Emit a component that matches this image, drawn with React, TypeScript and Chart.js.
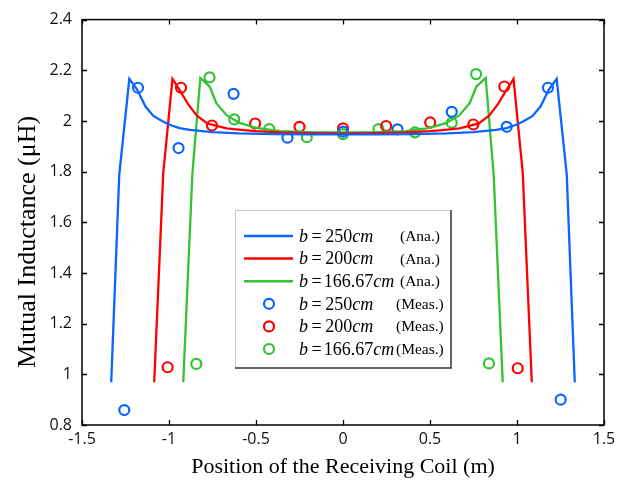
import React, { useEffect, useRef } from 'react';
import { Chart, registerables } from 'chart.js';

Chart.register(...registerables);

// ---- tick labels ----
const xTicks = [-1.5, -1, -0.5, 0, 0.5, 1, 1.5];
const yTicks = [0.8, 1, 1.2, 1.4, 1.6, 1.8, 2, 2.2, 2.4];

// ---- series names ----
const bValues = ['250', '200', '166.67'];
const seriesColors = ['#0a64ff', '#ff0000', '#33c433'];

// ---- analytical curves ----
const ana250X = [-1.332, -1.286, -1.228, -1.184, -1.135, -1.09, -1.04, -1.0, -0.94, -0.88, -0.75, -0.6, -0.4, -0.2, 0, 0.2, 0.4, 0.6, 0.75, 0.88, 0.94, 1.0, 1.04, 1.09, 1.135, 1.184, 1.228, 1.286, 1.332];
const ana250Y = [0.969, 1.787, 2.166, 2.125, 2.057, 2.02, 2.0, 1.986, 1.972, 1.965, 1.956, 1.951, 1.948, 1.947, 1.947, 1.947, 1.948, 1.951, 1.956, 1.965, 1.972, 1.986, 2.0, 2.02, 2.057, 2.125, 2.166, 1.787, 0.969];

const ana200X = [-1.085, -1.033, -0.98, -0.937, -0.89, -0.84, -0.78, -0.67, -0.6, -0.5, -0.36, -0.18, 0, 0.18, 0.36, 0.5, 0.6, 0.67, 0.78, 0.84, 0.89, 0.937, 0.98, 1.033, 1.085];
const ana200Y = [0.969, 1.795, 2.166, 2.12, 2.066, 2.021, 1.99, 1.971, 1.966, 1.96, 1.955, 1.952, 1.951, 1.952, 1.955, 1.96, 1.966, 1.971, 1.99, 2.021, 2.066, 2.12, 2.166, 1.795, 0.969];

const ana167X = [-0.918, -0.866, -0.82, -0.766, -0.728, -0.668, -0.594, -0.5, -0.36, -0.18, 0, 0.18, 0.36, 0.5, 0.594, 0.668, 0.728, 0.766, 0.82, 0.866, 0.918];
const ana167Y = [0.969, 1.787, 2.17, 2.135, 2.07, 2.022, 1.992, 1.973, 1.96, 1.956, 1.955, 1.956, 1.96, 1.973, 1.992, 2.022, 2.07, 2.135, 2.17, 1.787, 0.969];

// ---- measured points ----
const meas250X = [-1.257, -1.178, -0.945, -0.629, -0.319, 0, 0.313, 0.625, 0.941, 1.178, 1.251];
const meas250Y = [0.859, 2.131, 1.893, 2.107, 1.934, 1.958, 1.967, 2.036, 1.977, 2.131, 0.9];

const meas200X = [-1.008, -0.931, -0.753, -0.505, -0.25, 0, 0.248, 0.501, 0.749, 0.927, 1.004];
const meas200Y = [1.028, 2.131, 1.982, 1.99, 1.977, 1.971, 1.98, 1.994, 1.986, 2.136, 1.024];

const meas167X = [-0.843, -0.767, -0.625, -0.424, -0.208, 0, 0.204, 0.414, 0.625, 0.765, 0.839];
const meas167Y = [1.041, 2.172, 2.006, 1.968, 1.936, 1.948, 1.968, 1.955, 1.993, 2.185, 1.043];

const pts = (xs: number[], ys: number[]) => xs.map((x, i) => ({ x, y: ys[i] }));

const anaSeries = [pts(ana250X, ana250Y), pts(ana200X, ana200Y), pts(ana167X, ana167Y)];
const measSeries = [pts(meas250X, meas250Y), pts(meas200X, meas200Y), pts(meas167X, meas167Y)];

const SERIF = '"Liberation Serif", "Times New Roman", serif';
const SANS = '"Open Sans", "Liberation Sans", sans-serif';

const framePlugin = {
  id: 'frameTicks',
  afterDatasetsDraw(chart: any) {
    const { ctx, chartArea, scales } = chart;
    const { left, right, top, bottom } = chartArea;
    const xs = scales.x;
    const ys = scales.y;
    ctx.save();
    ctx.strokeStyle = '#000';
    ctx.lineWidth = 1.5;
    ctx.strokeRect(left, top, right - left, bottom - top);
    ctx.lineWidth = 1.3;
    const tl = 5;
    ctx.beginPath();
    xTicks.forEach((v) => {
      const px = Math.round(xs.getPixelForValue(v)) + 0.5;
      ctx.moveTo(px, bottom);
      ctx.lineTo(px, bottom - tl);
      ctx.moveTo(px, top);
      ctx.lineTo(px, top + tl);
    });
    yTicks.forEach((v) => {
      const py = Math.round(ys.getPixelForValue(v)) + 0.5;
      ctx.moveTo(left, py);
      ctx.lineTo(left + tl, py);
      ctx.moveTo(right, py);
      ctx.lineTo(right - tl, py);
    });
    ctx.stroke();
    ctx.restore();
  },
  afterDraw(chart: any) {
    const { ctx, chartArea } = chart;
    const { left, right } = chartArea;
    ctx.save();
    // axis titles
    ctx.fillStyle = '#000';
    ctx.textAlign = 'center';
    ctx.textBaseline = 'middle';
    ctx.font = `22px ${SERIF}`;
    ctx.fillText('Position of the Receiving Coil (m)', (left + right) / 2, 467);
    ctx.save();
    ctx.translate(28, 242);
    ctx.rotate(-Math.PI / 2);
    ctx.font = `26px ${SERIF}`;
    ctx.fillText('Mutual Inductance (\u03bcH)', 0, 0);
    ctx.restore();

    // legend box
    const bx = 235, by = 210, bw = 216, bh = 158;
    ctx.fillStyle = '#fff';
    ctx.fillRect(bx, by, bw, bh);
    ctx.lineWidth = 1;
    ctx.strokeStyle = '#c8c8c8';
    ctx.beginPath();
    ctx.moveTo(bx + 0.5, by + bh);
    ctx.lineTo(bx + 0.5, by + 0.5);
    ctx.lineTo(bx + bw, by + 0.5);
    ctx.stroke();
    ctx.strokeStyle = '#333';
    ctx.lineWidth = 1.5;
    ctx.beginPath();
    ctx.moveTo(bx + bw, by);
    ctx.lineTo(bx + bw, by + bh);
    ctx.lineTo(bx, by + bh);
    ctx.stroke();

    const rowY0 = 236;
    const rowStep = 22.6;
    for (let r = 0; r < 6; r++) {
      const si = r % 3;
      const isLine = r < 3;
      const cy = rowY0 + r * rowStep;
      const col = seriesColors[si];
      ctx.strokeStyle = col;
      if (isLine) {
        ctx.lineWidth = 2.5;
        ctx.beginPath();
        ctx.moveTo(244, cy);
        ctx.lineTo(293, cy);
        ctx.stroke();
      } else {
        ctx.lineWidth = 2.2;
        ctx.beginPath();
        ctx.arc(269, cy, 5, 0, Math.PI * 2);
        ctx.stroke();
      }
      ctx.fillStyle = '#000';
      ctx.textAlign = 'left';
      ctx.textBaseline = 'middle';
      let tx = 299;
      ctx.font = `italic 18px ${SERIF}`;
      ctx.fillText('b', tx, cy + 1);
      tx += ctx.measureText('b').width + 3.5;
      ctx.font = `18px ${SERIF}`;
      ctx.fillText('=', tx, cy + 1);
      tx += ctx.measureText('=').width + (si === 2 ? 2 : 3.5);
      ctx.fillText(bValues[si], tx, cy + 1);
      tx += ctx.measureText(bValues[si]).width;
      ctx.font = `italic 18px ${SERIF}`;
      ctx.fillText('cm', tx, cy + 1);
      tx += ctx.measureText('cm').width;
      ctx.font = `15.5px ${SERIF}`;
      const suffix = isLine ? '(Ana.)' : '(Meas.)';
      const sx = Math.max(isLine ? 400 : 396, tx + 1);
      ctx.fillText(suffix, sx, cy + 1);
    }
    ctx.restore();
  },
};

export default function App() {
  const ref = useRef<HTMLCanvasElement | null>(null);
  useEffect(() => {
    if (!ref.current) return;
    const datasets: any[] = [];
    anaSeries.forEach((d, i) => {
      datasets.push({
        label: `b = ${bValues[i]}cm (Ana.)`,
        data: d,
        showLine: true,
        borderColor: seriesColors[i],
        borderWidth: 2.3,
        pointRadius: 0,
        tension: 0,
        fill: false,
      });
    });
    measSeries.forEach((d, i) => {
      datasets.push({
        label: `b = ${bValues[i]}cm (Meas.)`,
        data: d,
        showLine: false,
        borderColor: seriesColors[i],
        backgroundColor: 'rgba(0,0,0,0)',
        pointBorderColor: seriesColors[i],
        pointBackgroundColor: 'rgba(0,0,0,0)',
        pointRadius: 5,
        pointBorderWidth: 2.2,
        pointStyle: 'circle',
      });
    });
    const chart = new Chart(ref.current, {
      type: 'scatter',
      data: { datasets },
      options: {
        animation: false,
        responsive: false,
        devicePixelRatio: 1,
        events: [],
        layout: { padding: { left: 0, right: 28, top: 15, bottom: 0 } },
        plugins: { legend: { display: false }, tooltip: { enabled: false }, title: { display: false } },
        scales: {
          x: {
            type: 'linear',
            min: -1.5,
            max: 1.5,
            grid: { display: false, drawTicks: false },
            border: { display: false },
            afterBuildTicks: (axis: any) => {
              axis.ticks = xTicks.map((v) => ({ value: v }));
            },
            afterFit: (axis: any) => {
              axis.height = 58;
            },
            ticks: {
              autoSkip: false,
              maxRotation: 0,
              padding: 5,
              color: '#111',
              font: { family: SANS, size: 16 },
              callback: (v: any) => String(v),
            },
          },
          y: {
            type: 'linear',
            min: 0.8,
            max: 2.4,
            grid: { display: false, drawTicks: false },
            border: { display: false },
            afterBuildTicks: (axis: any) => {
              axis.ticks = yTicks.map((v) => ({ value: v }));
            },
            afterFit: (axis: any) => {
              axis.width = 82;
            },
            ticks: {
              autoSkip: false,
              padding: 10,
              color: '#111',
              font: { family: SANS, size: 16 },
              callback: (v: any) => String(v),
            },
          },
        },
      },
      plugins: [framePlugin],
    });
    return () => chart.destroy();
  }, []);
  return (
    <div style={{ position: 'absolute', left: 0, top: 0, width: 632, height: 483, background: '#fff' }}>
      <canvas ref={ref} width={632} height={483} style={{ width: 632, height: 483, display: 'block' }} />
    </div>
  );
}
